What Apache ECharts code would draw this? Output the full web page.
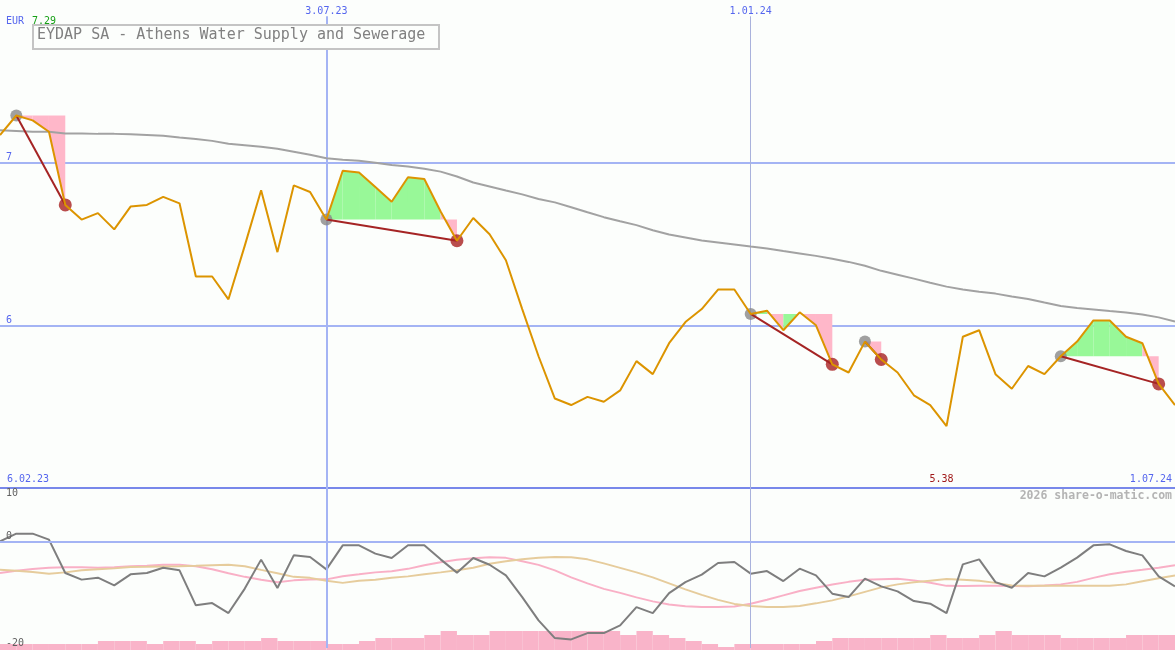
<!DOCTYPE html>
<html><head><meta charset="utf-8">
<script src="https://cdn.jsdelivr.net/npm/echarts@6/dist/echarts.min.js"></script>
<style>html,body{margin:0;padding:0;background:#fcfefc}#c{width:1175px;height:650px}</style>
</head><body><div id="c"></div>
<script>
const dates = ['13.02.23','20.02.23','27.02.23','6.03.23','13.03.23','20.03.23','27.03.23','3.04.23','10.04.23','17.04.23','24.04.23','1.05.23','8.05.23','15.05.23','22.05.23','29.05.23','5.06.23','12.06.23','19.06.23','26.06.23','3.07.23','10.07.23','17.07.23','24.07.23','31.07.23','7.08.23','14.08.23','21.08.23','28.08.23','4.09.23','11.09.23','18.09.23','25.09.23','2.10.23','9.10.23','16.10.23','23.10.23','30.10.23','6.11.23','13.11.23','20.11.23','27.11.23','4.12.23','11.12.23','18.12.23','25.12.23','1.01.24','8.01.24','15.01.24','22.01.24','29.01.24','5.02.24','12.02.24','19.02.24','26.02.24','4.03.24','11.03.24','18.03.24','25.03.24','1.04.24','8.04.24','15.04.24','22.04.24','29.04.24','6.05.24','13.05.24','20.05.24','27.05.24','3.06.24','10.06.24','17.06.24','24.06.24','1.07.24'];
const price = [7.17,7.29,7.26,7.19,6.74,6.65,6.69,6.59,6.73,6.74,6.79,6.75,6.30,6.30,6.16,6.49,6.83,6.45,6.86,6.82,6.65,6.95,6.94,6.85,6.76,6.91,6.90,6.70,6.52,6.66,6.56,6.40,6.10,5.81,5.55,5.51,5.56,5.53,5.60,5.78,5.70,5.89,6.02,6.10,6.22,6.22,6.07,6.09,5.97,6.08,6.00,5.76,5.71,5.90,5.79,5.71,5.57,5.51,5.38,5.93,5.97,5.70,5.61,5.75,5.70,5.81,5.90,6.03,6.03,5.93,5.89,5.64,5.51];
const movingAvg = [7.20,7.195,7.19,7.19,7.18,7.18,7.177,7.177,7.174,7.17,7.165,7.155,7.146,7.134,7.116,7.107,7.098,7.085,7.067,7.049,7.027,7.018,7.012,7.0,6.985,6.976,6.963,6.945,6.915,6.878,6.854,6.829,6.805,6.777,6.756,6.726,6.695,6.665,6.64,6.616,6.585,6.558,6.54,6.521,6.509,6.497,6.484,6.473,6.457,6.442,6.427,6.409,6.39,6.366,6.335,6.311,6.287,6.262,6.238,6.22,6.207,6.195,6.177,6.162,6.14,6.119,6.107,6.098,6.088,6.079,6.067,6.049,6.024];
const oscGray = [0,1.44,1.44,0.32,-5.94,-7.18,-6.81,-8.26,-6.19,-5.94,-4.94,-5.44,-12.0,-11.57,-13.45,-8.86,-3.43,-8.76,-2.63,-2.95,-5.25,-0.75,-0.75,-2.31,-3.13,-0.75,-0.75,-3.38,-5.87,-3.13,-4.39,-6.38,-10.45,-14.82,-18.14,-18.39,-17.2,-17.2,-15.76,-12.33,-13.45,-9.7,-7.64,-6.25,-4.07,-3.88,-6.06,-5.57,-7.45,-5.13,-6.38,-9.81,-10.45,-7.0,-8.44,-9.38,-11.2,-11.69,-13.45,-4.32,-3.38,-7.64,-8.69,-5.94,-6.57,-4.94,-3.06,-0.75,-0.56,-1.82,-2.63,-6.57,-8.44];
const oscPink = [-5.95,-5.53,-5.2,-4.97,-4.84,-4.88,-4.93,-4.84,-4.69,-4.56,-4.41,-4.37,-4.69,-5.25,-6.0,-6.66,-7.22,-7.69,-7.32,-7.17,-7.13,-6.53,-6.19,-5.82,-5.59,-5.16,-4.5,-3.94,-3.47,-3.15,-3.0,-3.1,-3.75,-4.41,-5.44,-6.75,-7.88,-8.91,-9.66,-10.51,-11.26,-11.86,-12.16,-12.33,-12.29,-12.2,-11.69,-10.94,-10.13,-9.32,-8.69,-8.11,-7.6,-7.22,-7.09,-7.0,-7.32,-7.75,-8.35,-8.39,-8.35,-8.31,-8.39,-8.44,-8.26,-8.07,-7.6,-6.85,-6.19,-5.72,-5.35,-4.97,-4.5];
const oscTan = [-5.31,-5.53,-5.76,-6.1,-5.82,-5.44,-5.25,-5.07,-4.82,-4.78,-4.73,-4.69,-4.6,-4.5,-4.41,-4.69,-5.35,-6.0,-6.66,-6.85,-7.37,-7.79,-7.41,-7.22,-6.85,-6.57,-6.19,-5.82,-5.44,-4.97,-4.22,-3.75,-3.38,-3.1,-2.95,-3.0,-3.38,-4.13,-4.97,-5.82,-6.75,-7.88,-9.01,-10.04,-10.98,-11.73,-12.14,-12.33,-12.29,-12.14,-11.63,-11.07,-10.32,-9.47,-8.63,-8.07,-7.69,-7.37,-7.07,-7.19,-7.37,-7.79,-8.26,-8.31,-8.31,-8.31,-8.31,-8.31,-8.31,-8.07,-7.5,-6.94,-6.38];
const volume = [6,6,6,6,6,6,9,9,9,6,9,9,6,9,9,9,12,9,9,9,6,6,9,12,12,12,15,19,15,15,19,19,19,19,19,19,19,19,15,19,15,12,9,6,3,6,6,6,6,6,9,12,12,12,12,12,12,15,12,12,15,19,15,15,15,12,12,12,12,15,15,15];
const tradeStart = [1,20,46,53,65];
const tradeEnd = [4,28,51,54,71];
const markedDates = ['3.07.23','1.01.24'];
const priceTicks = [6,7];
const lowerTicks = [10,0,-20];
const titleText = 'EYDAP SA - Athens Water Supply and Sewerage';
const currency = 'EUR';
const maxLabel = '7.29';
const minLabel = '5.38';
const startLabel = '6.02.23';
const endLabel = '1.07.24';
const credit = '2026 share-o-matic.com';

const MONO = 'DejaVu Sans Mono';
const BLUE = '#5566ee';
const GRID = '#a4b4f4';
const CLEAR = 'rgba(0,0,0,0)';

const chart = echarts.init(document.getElementById('c'), null, {renderer: 'canvas'});

const fillData = [];
tradeStart.forEach((s, k) => { for (let j = s; j < tradeEnd[k]; j++) fillData.push([j, s]); });
const tradeLines = tradeStart.map((s, k) => [s, tradeEnd[k]]);

function vLine(d, color, width, top, bottom) {
  return [{coord: [d, top], lineStyle: {color: color, width: width, type: 'solid'}}, {coord: [d, bottom]}];
}

const option = {
  backgroundColor: '#fcfefc',
  animation: false,
  grid: [
    {left: 0, right: 0, top: -2, height: 490},
    {left: 0, right: 0, top: 488, height: 160},
    {left: 0, right: 0, top: 620, height: 30}
  ],
  xAxis: [
    {type: 'category', gridIndex: 0, data: dates, boundaryGap: false, position: 'top',
     axisLine: {show: false}, axisTick: {show: false}, splitLine: {show: false},
     axisLabel: {inside: true, margin: 6, interval: (i, v) => markedDates.includes(v), color: BLUE,
                 fontFamily: MONO, fontSize: 10}},
    {type: 'category', gridIndex: 1, data: dates, boundaryGap: false, show: false},
    {type: 'category', gridIndex: 2, data: dates.slice(0, volume.length), boundaryGap: true, show: false}
  ],
  yAxis: [
    {type: 'value', gridIndex: 0, min: 5, max: 8, interval: 1,
     axisLine: {show: false}, axisTick: {show: false},
     axisLabel: {inside: true, margin: 6, verticalAlign: 'bottom', color: BLUE, fontFamily: MONO, fontSize: 10,
                 formatter: v => priceTicks.includes(v) ? String(v) : ''},
     splitLine: {show: true, lineStyle: {color: ['#7888ea', GRID, GRID, CLEAR], width: 2}}},
    {type: 'value', gridIndex: 1, min: -20, max: 10, interval: 10, z: 12,
     axisLine: {show: false}, axisTick: {show: false},
     axisLabel: {inside: true, margin: 6, verticalAlign: 'bottom', color: '#606060', fontFamily: MONO, fontSize: 10,
                 formatter: v => (lowerTicks.includes(v) && v !== 10) ? String(v) : ''},
     splitLine: {show: true, lineStyle: {color: [CLEAR, CLEAR, GRID, CLEAR], width: 2}}},
    {type: 'value', gridIndex: 1, min: -20, max: 10, interval: 10, position: 'left', z: 12,
     axisLine: {show: false}, axisTick: {show: false}, splitLine: {show: false},
     axisLabel: {inside: true, margin: 6, verticalAlign: 'top', color: '#606060', fontFamily: MONO, fontSize: 10,
                 formatter: v => (v === 10 && lowerTicks.includes(v)) ? String(v) : ''}},
    {type: 'value', gridIndex: 2, min: 0, max: 30, show: false}
  ],
  series: [
    {type: 'bar', xAxisIndex: 2, yAxisIndex: 3, data: volume, barWidth: '100%', barCategoryGap: 0,
     itemStyle: {color: '#f9b4c9'}, silent: true, z: 1},
    {type: 'line', xAxisIndex: 1, yAxisIndex: 1, data: oscPink, symbol: 'none', silent: true, z: 3,
     lineStyle: {color: '#f9b0c6', width: 2}},
    {type: 'line', xAxisIndex: 1, yAxisIndex: 1, data: oscTan, symbol: 'none', silent: true, z: 3,
     lineStyle: {color: '#e6cc9c', width: 2}},
    {type: 'line', xAxisIndex: 1, yAxisIndex: 1, data: oscGray, symbol: 'none', silent: true, z: 4,
     lineStyle: {color: '#7e7e7e', width: 2},
     markLine: {silent: true, symbol: 'none', label: {show: false},
       data: [vLine(markedDates[0], GRID, 2, 10, -20), vLine(markedDates[1], '#a9b2dc', 1, 10, -20)]}},
    {type: 'custom', xAxisIndex: 0, yAxisIndex: 0, data: fillData, silent: true, z: 6, clip: false,
     encode: {x: 0, y: -1},
     renderItem: function (params, api) {
       const j = api.value(0), s = api.value(1);
       const lv = price[s];
       const pts = [api.coord([j, lv]), api.coord([j, price[j]]), api.coord([j + 1, price[j + 1]]), api.coord([j + 1, lv])];
       return {type: 'polygon', shape: {points: pts}, style: {fill: price[j + 1] >= lv ? '#98f898' : '#ffb7c9', stroke: null}};
     }},
    {type: 'line', xAxisIndex: 0, yAxisIndex: 0, data: movingAvg, symbol: 'none', silent: true, z: 7,
     lineStyle: {color: '#a2a2a2', width: 2},
     markLine: {silent: true, symbol: 'none', label: {show: false},
       data: [vLine(markedDates[0], GRID, 2, 7.9, 5), vLine(markedDates[1], '#a9b2dc', 1, 7.9, 5)]}},
    {type: 'scatter', xAxisIndex: 0, yAxisIndex: 0, data: tradeStart.map(s => [s, price[s]]),
     symbol: 'circle', symbolSize: 12, itemStyle: {color: '#888888'}, silent: true, z: 8},
    {type: 'scatter', xAxisIndex: 0, yAxisIndex: 0, data: tradeEnd.map(e => [e, price[e]]),
     symbol: 'circle', symbolSize: 13, itemStyle: {color: '#a82020'}, silent: true, z: 8},
    {type: 'custom', xAxisIndex: 0, yAxisIndex: 0, data: tradeLines, silent: true, z: 9, clip: false,
     encode: {x: 0, y: -1},
     renderItem: function (params, api) {
       const s = api.value(0), e = api.value(1);
       const a = api.coord([s, price[s]]), b = api.coord([e, price[e]]);
       return {type: 'line', shape: {x1: a[0], y1: a[1], x2: b[0], y2: b[1]}, style: {stroke: '#a52424', lineWidth: 2}};
     }},
    {type: 'line', xAxisIndex: 0, yAxisIndex: 0, data: price, symbol: 'none', silent: true, z: 10,
     lineStyle: {color: '#dc9400', width: 2}}
  ]
};
chart.setOption(option);

let minIdx = 0;
price.forEach((v, i) => { if (v < price[minIdx]) minIdx = i; });
const minX = chart.convertToPixel({gridIndex: 0}, [minIdx, price[minIdx]])[0];

chart.setOption({
  graphic: [
    {type: 'text', left: 6, top: 16, style: {text: currency, fill: BLUE, font: '10px "DejaVu Sans Mono"'}, z: 20},
    {type: 'text', left: 32, top: 16, style: {text: maxLabel, fill: '#16a016', font: '10px "DejaVu Sans Mono"'}, z: 20},
    {type: 'rect', left: 32, top: 24, shape: {width: 406, height: 24},
     style: {fill: '#fcfefc', stroke: '#c4c4c4', lineWidth: 2}, z: 20},
    {type: 'text', left: 37, top: 28, style: {text: titleText, fill: '#808080', font: '15px "DejaVu Sans Mono"'}, z: 21},
    {type: 'text', left: 7, top: 474, style: {text: startLabel, fill: BLUE, font: '10px "DejaVu Sans Mono"'}, z: 20},
    {type: 'text', right: 3, top: 474, style: {text: endLabel, fill: BLUE, font: '10px "DejaVu Sans Mono"'}, z: 20},
    {type: 'text', x: minX - 5, y: 474, style: {text: minLabel, fill: '#a01818', font: '10px "DejaVu Sans Mono"', align: 'center'}, z: 20},
    {type: 'text', right: 3, top: 490, style: {text: credit, fill: '#b4b4b4', font: 'bold 11.5px "DejaVu Sans Mono"'}, z: 20}
  ]
});
</script></body></html>
